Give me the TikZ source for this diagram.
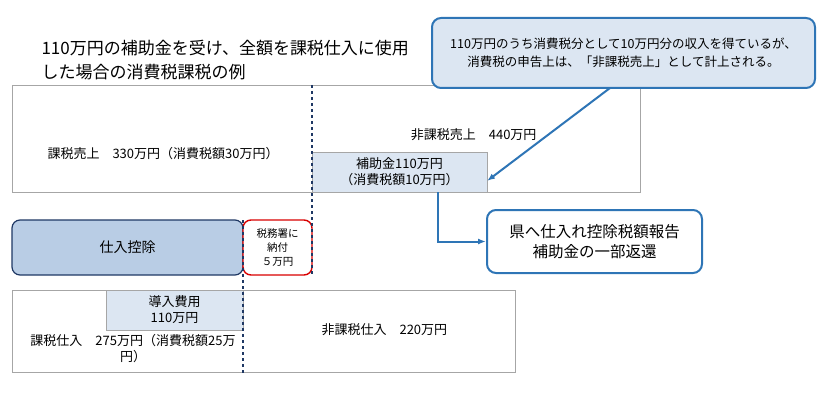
\documentclass[tikz,border=0pt]{standalone}
\usepackage{fontspec}
\setmainfont{Noto Sans CJK JP}
\usetikzlibrary{arrows.meta,positioning}
\definecolor{lineblue}{RGB}{46,117,182}
\definecolor{paleblue}{RGB}{220,230,242}
\definecolor{midblue}{RGB}{185,205,229}
\definecolor{darkblue}{RGB}{31,56,100}

\begin{document}
\begin{tikzpicture}[x=1pt, y=-1pt,
    every node/.style = {align=center, font=\fontsize{13}{16}\selectfont},
    plain/.style = {draw=gray!70, fill=white},
    pale/.style = {draw=gray!70, fill=paleblue},
    note/.style = {draw=lineblue, line width=2pt, rounded corners=9pt},
    guide/.style = {dashed, draw=darkblue, line width=1.3pt},
    flow/.style = {-{Latex[length=8pt]}, draw=lineblue, line width=2pt}]
  \useasboundingbox (0,0) rectangle (832,417);
  % title
  \node[anchor=north west, align=left, font=\fontsize{17}{24}\selectfont] (title) at (38,37)
    {110万円の補助金を受け、全額を課税仕入に使用\\した場合の消費税課税の例};
  % sales
  \draw[plain] (12,85) rectangle (640,192);
  \node[anchor=west] (kazei) at (44,154) {課税売上\quad 330万円（消費税額30万円）};
  \node[anchor=east] (hikazei) at (540,135) {非課税売上\quad 440万円};
  \draw[pale] (312,152) rectangle (487,192);
  \node (hojo) at (399.5,172) {補助金110万円\\（消費税額10万円）};
  \coordinate (hojoR) at (487,181);
  \coordinate (hojoB) at (438,192);
  % callout
  \node[note, fill=paleblue, minimum width=383pt, minimum height=70pt,
        font=\fontsize{12.5}{18}\selectfont] (memo) at (623.5,53)
    {110万円のうち消費税分として10万円分の収入を得ているが、\\消費税の申告上は、「非課税売上」として計上される。};
  \coordinate (memoB) at (610,88);
  \draw[flow] (memoB) -- (hojoR);
  % report
  \node[note, fill=white, minimum width=215pt, minimum height=63pt,
        font=\fontsize{15.5}{20}\selectfont] (report) at (594.5,241.5)
    {県へ仕入れ控除税額報告\\補助金の一部返還};
  \draw[flow] (hojoB) |- (report.west);
  % deduction
  \node[draw=darkblue, fill=midblue, line width=1.2pt, rounded corners=8pt,
        minimum width=231pt, minimum height=55pt, font=\fontsize{14}{17}\selectfont] (koujo) at (127.5,247.5) {仕入控除};
  \node[draw=red!85!black, fill=white, line width=1.4pt, rounded corners=8pt,
        minimum width=69pt, minimum height=55pt, font=\fontsize{10.5}{14}\selectfont] (nofu) at (277.5,247.5)
    {税務署に\\納付\\５万円};
  % purchases
  \draw[plain] (12,290) rectangle (515,372);
  \draw[pale] (106,290) rectangle (243,330);
  \node (donyu) at (174.5,310) {導入費用\\110万円};
  \node[text width=240pt, align=center] (shiire) at (133,349)
    {課税仕入\quad 275万円（消費税額25万\\円）};
  \node[anchor=west] (hishiire) at (318,330) {非課税仕入\quad 220万円};
  % guides
  \draw[guide] (312,85) -- (312,275);
  \draw[guide] (243,220) -- (243,375);
\end{tikzpicture}
\end{document}
